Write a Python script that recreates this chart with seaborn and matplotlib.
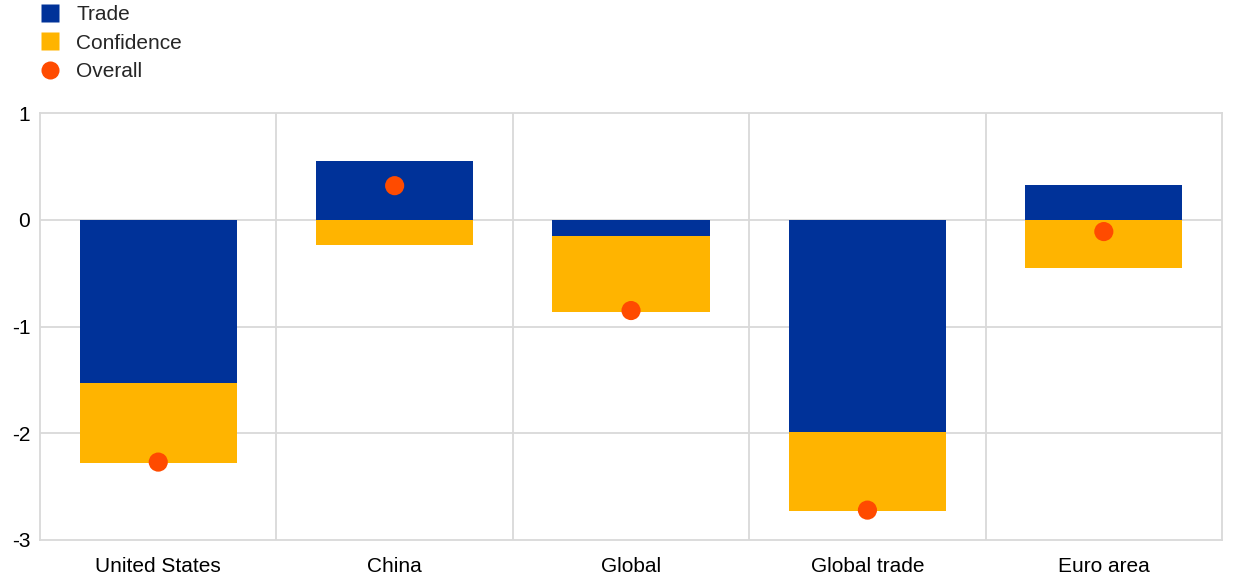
import numpy as np
import pandas as pd
import matplotlib.pyplot as plt
import seaborn as sns
from matplotlib.lines import Line2D

# chart values
regions = ['United States', 'China', 'Global', 'Global trade', 'Euro area']
trade = [-1.53, 0.55, -0.15, -1.99, 0.33]
confidence = [-0.75, -0.24, -0.71, -0.74, -0.45]
overall = [-2.27, 0.32, -0.85, -2.72, -0.11]

blue = '#003299'
yellow = '#FFB400'
orange = '#FF4B00'

sns.set_style('white')
plt.rcParams['font.family'] = ['Liberation Sans', 'DejaVu Sans']

fig = plt.figure(figsize=(12.4, 5.86), dpi=100)
ax = fig.add_axes([0.0323, 0.0785, 0.9532, 0.7285])

x = np.arange(len(regions))
width = 0.665

# stack positives and negatives separately
trade_bottom = np.zeros(len(regions))
conf_bottom = np.where((np.array(confidence) < 0) == (np.array(trade) < 0), trade, 0)

ax.bar(x, trade, width=width, bottom=trade_bottom, color=blue, linewidth=0, zorder=2)
ax.bar(x, confidence, width=width, bottom=conf_bottom, color=yellow, linewidth=0, zorder=2)

df = pd.DataFrame({'x': x, 'overall': overall})
sns.scatterplot(data=df, x='x', y='overall', ax=ax, color=orange, s=190,
                edgecolor='none', zorder=3, legend=False)

ax.set_xlim(-0.5, len(regions) - 0.5)
ax.set_ylim(-3, 1)
ax.set_yticks([-3, -2, -1, 0, 1])
ax.set_yticklabels(['-3', '-2', '-1', '0', '1'])
ax.set_xticks(x)
ax.set_xticklabels(regions)
ax.set_xlabel('')
ax.set_ylabel('')
ax.tick_params(axis='both', labelsize=15, length=0, colors='black')
ax.tick_params(axis='y', pad=7)
ax.tick_params(axis='x', pad=12)

grid_c = '#D9D9D9'
for yv in [-2, -1, 0]:
    ax.axhline(yv, color=grid_c, lw=1.3, zorder=1)
for xv in x[:-1] + 0.5:
    ax.axvline(xv, color=grid_c, lw=1.3, zorder=1)
for s in ax.spines.values():
    s.set_color(grid_c)
    s.set_linewidth(1.3)

handles = [
    Line2D([], [], marker='s', color='none', markerfacecolor=blue, markeredgecolor='none', markersize=12.5),
    Line2D([], [], marker='s', color='none', markerfacecolor=yellow, markeredgecolor='none', markersize=12.5),
    Line2D([], [], marker='o', color='none', markerfacecolor=orange, markeredgecolor='none', markersize=13),
]
fig.legend(handles, ['Trade', 'Confidence', 'Overall'], loc='upper left',
           bbox_to_anchor=(0.021, 1.016), frameon=False, fontsize=15,
           handlelength=0.9, handletextpad=0.8, labelspacing=0.45, borderpad=0.2)

fig.savefig('out.png', dpi=100)
